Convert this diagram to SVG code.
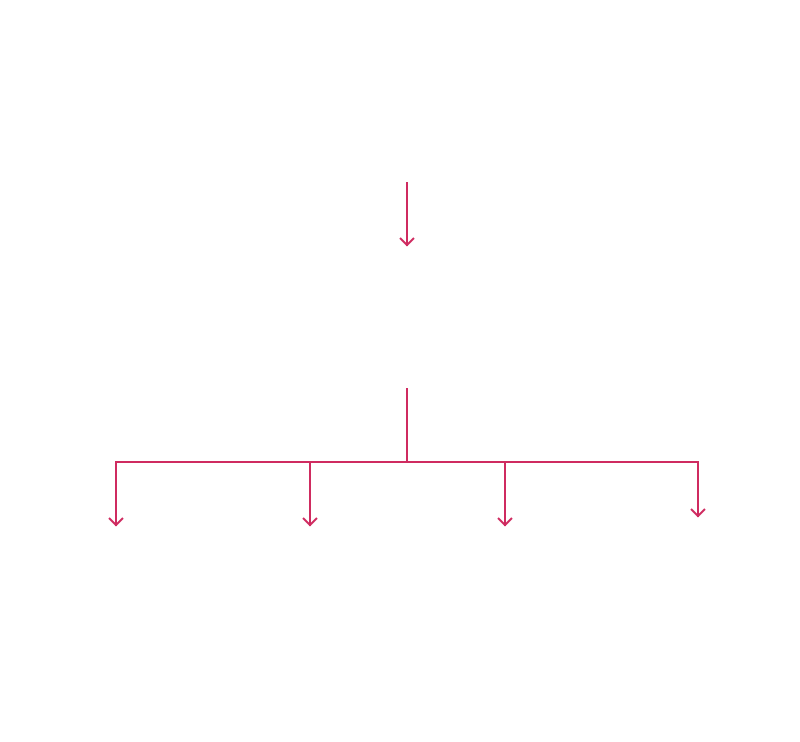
<svg xmlns="http://www.w3.org/2000/svg" width="800" height="742" viewBox="0 0 800 742">
<style>
.c{fill:none;stroke:#cf2b60;stroke-width:2;stroke-linecap:square;stroke-linejoin:miter}
</style>
<defs>
<marker id="a" viewBox="0 0 16 16" refX="8" refY="8" markerWidth="16" markerHeight="16" markerUnits="userSpaceOnUse" orient="auto">
<path d="M1,1 L8,8 L1,15" fill="none" stroke="#cf2b60" stroke-width="2"/>
</marker>
</defs>
<rect width="800" height="742" fill="#ffffff"/>
<g id="connectors">
<path class="c" d="M407,183 V245" marker-end="url(#a)"/>
<path class="c" d="M407,389 V462"/>
<path class="c" d="M116,462 H698"/>
<path class="c" d="M116,462 V525" marker-end="url(#a)"/>
<path class="c" d="M310,462 V525" marker-end="url(#a)"/>
<path class="c" d="M505,462 V525" marker-end="url(#a)"/>
<path class="c" d="M698,462 V516" marker-end="url(#a)"/>
</g>
</svg>
